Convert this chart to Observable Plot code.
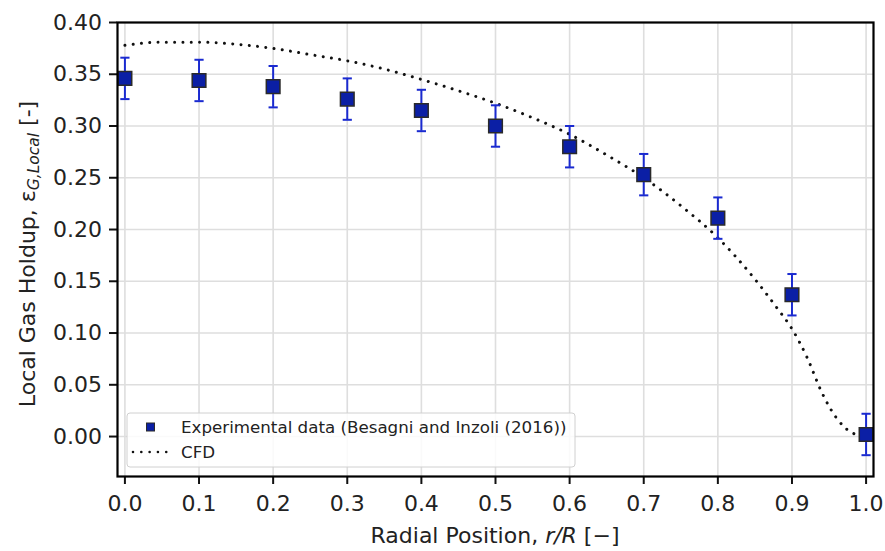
<!DOCTYPE html>
<html>
<head>
<meta charset="utf-8">
<script src="https://cdn.jsdelivr.net/npm/d3@7"></script>
<script src="https://cdn.jsdelivr.net/npm/@observablehq/plot@0.6"></script>
<style>
  body { margin: 0; background: #fff; }
  #chart svg { display: block; font-family: "DejaVu Sans", sans-serif; }
</style>
</head>
<body>
<div id="chart"></div>
<script>
// Experimental data (Besagni and Inzoli 2016)
const expR     = [0.0, 0.1, 0.2, 0.3, 0.4, 0.5, 0.6, 0.7, 0.8, 0.9, 1.0];
const expHold  = [0.346, 0.344, 0.338, 0.326, 0.315, 0.300, 0.280, 0.253, 0.211, 0.137, 0.002];
const expErr   = [0.020, 0.020, 0.020, 0.020, 0.020, 0.020, 0.020, 0.020, 0.020, 0.020, 0.020];

// CFD profile
const cfdR    = [0.00, 0.05, 0.10, 0.15, 0.20, 0.25, 0.30, 0.35, 0.40, 0.45, 0.50, 0.55, 0.60, 0.65, 0.70, 0.75, 0.80, 0.85, 0.88, 0.90, 0.92, 0.94, 0.96, 0.98, 1.00];
const cfdHold = [0.378, 0.381, 0.381, 0.379, 0.375, 0.369, 0.363, 0.355, 0.345, 0.334, 0.322, 0.308, 0.292, 0.272, 0.250, 0.223, 0.192, 0.152, 0.124, 0.104, 0.077, 0.043, 0.018, 0.004, 0.000];

// Tick values
const xTicks = [0.0, 0.1, 0.2, 0.3, 0.4, 0.5, 0.6, 0.7, 0.8, 0.9, 1.0];
const yTicks = [0.00, 0.05, 0.10, 0.15, 0.20, 0.25, 0.30, 0.35, 0.40];

const legendLabels = ["Experimental data (Besagni and Inzoli (2016))", "CFD"];

const exp = expR.map((r, i) => ({r, v: expHold[i], lo: expHold[i] - expErr[i], hi: expHold[i] + expErr[i]}));
const cfd = cfdR.map((r, i) => ({r, v: cfdHold[i]}));

const capSymbol = {
  draw(context, size) {
    const w = 4.6;
    context.moveTo(-w, 0);
    context.lineTo(w, 0);
  }
};

const markerFill = "#0b1fa5";
const errColor = "#1a2ad0";

const plot = Plot.plot({
  width: 885,
  height: 551,
  marginLeft: 117,
  marginRight: 12,
  marginTop: 22,
  marginBottom: 75,
  style: {fontFamily: "DejaVu Sans, sans-serif", fontSize: "22px", color: "#222"},
  x: {domain: [-0.01, 1.01], label: null},
  y: {domain: [-0.0386, 0.40], label: null},
  marks: [
    Plot.gridX(xTicks, {stroke: "#dedede", strokeOpacity: 1, strokeWidth: 1.6}),
    Plot.gridY(yTicks, {stroke: "#dedede", strokeOpacity: 1, strokeWidth: 1.6}),
    Plot.axisX(xTicks, {tickSize: 8, tickPadding: 11, strokeWidth: 2, stroke: "#111", tickFormat: d3.format(".1f"), label: null, fill: "#222", fontSize: 22}),
    Plot.axisY(yTicks, {tickSize: 8, tickPadding: 7.5, strokeWidth: 2, stroke: "#111", tickFormat: d3.format(".2f"), label: null, fill: "#222", fontSize: 22}),
    Plot.line(cfd, {x: "r", y: "v", stroke: "#111", strokeWidth: 3, strokeDasharray: "0.01,8.3", strokeLinecap: "round", curve: "monotone-x"}),
    Plot.ruleX(exp, {x: "r", y1: "lo", y2: "hi", stroke: errColor, strokeWidth: 2}),
    Plot.dot(exp, {x: "r", y: "lo", symbol: capSymbol, r: 4, stroke: errColor, strokeWidth: 2, fill: "none"}),
    Plot.dot(exp, {x: "r", y: "hi", symbol: capSymbol, r: 4, stroke: errColor, strokeWidth: 2, fill: "none"}),
    Plot.dot(exp, {x: "r", y: "v", symbol: "square", r: 7.7, fill: markerFill, stroke: "#2a2a2a", strokeWidth: 1.5}),
    Plot.frame({stroke: "#000", strokeWidth: 2.2})
  ]
});

document.getElementById("chart").appendChild(plot);

const svg = d3.select(plot);

// Y axis label
const yl = svg.append("text")
  .attr("transform", "translate(35,254) rotate(-90)")
  .attr("text-anchor", "middle")
  .attr("font-size", 22)
  .attr("fill", "#222");
yl.append("tspan").text("Local Gas Holdup, ε");
yl.append("tspan").attr("font-size", 15.5).attr("font-style", "italic").attr("dy", 4).text("G,Local");
yl.append("tspan").attr("dy", -4).text(" [-]");

// X axis label
const xl = svg.append("text")
  .attr("x", 495).attr("y", 543)
  .attr("text-anchor", "middle")
  .attr("font-size", 22)
  .attr("fill", "#222");
xl.append("tspan").text("Radial Position, ");
xl.append("tspan").attr("font-style", "italic").text("r/R");
xl.append("tspan").text(" [−]");

// Legend
const lg = svg.append("g").attr("text-anchor", "start");
lg.append("rect").attr("x", 127).attr("y", 413).attr("width", 448).attr("height", 54)
  .attr("rx", 3).attr("fill", "#fff").attr("fill-opacity", 0.85).attr("stroke", "#d0d0d0");
lg.append("rect").attr("x", 146.5).attr("y", 423).attr("width", 8).attr("height", 8)
  .attr("fill", markerFill).attr("stroke", "#2a2a2a").attr("stroke-width", 1);
lg.append("text").attr("x", 181).attr("y", 433).attr("font-size", 16.7).attr("fill", "#222").text(legendLabels[0]);
lg.append("line").attr("x1", 133).attr("x2", 167).attr("y1", 452).attr("y2", 452)
  .attr("stroke", "#111").attr("stroke-width", 2.6).attr("stroke-dasharray", "0.01,8.3").attr("stroke-linecap", "round");
lg.append("text").attr("x", 181).attr("y", 458).attr("font-size", 16.7).attr("fill", "#222").text(legendLabels[1]);
</script>
</body>
</html>
